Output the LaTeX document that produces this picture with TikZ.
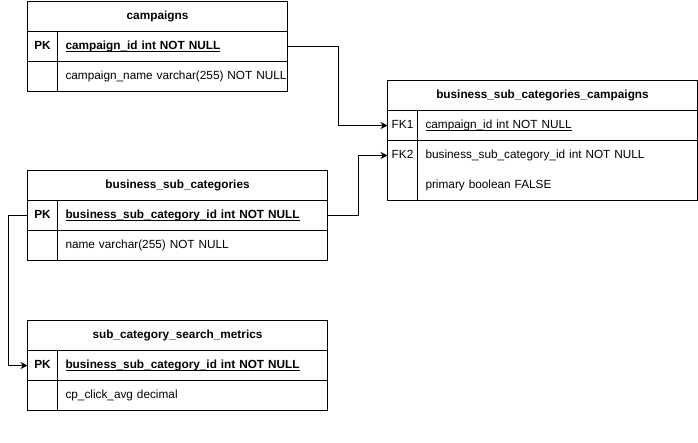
\documentclass[tikz,border=0pt,12pt]{standalone}
\usepackage{fontspec}
\setmainfont{Liberation Sans}
\usetikzlibrary{arrows.meta,positioning}
\newcommand{\keyname}[1]{\setbox0\hbox{#1}\rlap{\rule[-2.6pt]{\wd0}{0.8pt}}\box0}

\begin{document}
\begin{tikzpicture}
[x=1pt,y=-1pt,line width=1pt,
font=\fontsize{11.8pt}{14pt}\selectfont,
strong/.style={font=\fontsize{11.8pt}{14pt}\selectfont\bfseries},
cell/.style={anchor=north west,outer sep=0pt,minimum height=30pt,inner ysep=0pt,text height=9pt,text depth=3pt},
tablename/.style={cell,draw,strong,minimum width=#1},
keycell/.style={cell,minimum width=30pt,inner xsep=0pt},
fieldcell/.style={cell,inner xsep=8pt,text width=#1,align=left},
ruled/.style={draw},
fk/.style={-{Stealth[length=7pt,width=7pt]}}]
\useasboundingbox (0,0) rectangle (698,442);
% campaigns
\node[tablename=260pt] (campaigns) at (27.5,1.5) {campaigns};
\node[keycell,ruled,strong] (campaigns pk) at (campaigns.south west) {PK};
\node[fieldcell=214pt,ruled,strong] (campaigns id) at (campaigns pk.north east) {\keyname{campaign\_id int NOT NULL}};
\node[keycell,ruled] (campaigns k2) at (campaigns pk.south west) {};
\node[fieldcell=214pt,ruled] (campaigns name) at (campaigns k2.north east) {\mbox{campaign\_name varchar(255) NOT NULL}};
% business_sub_categories_campaigns
\node[tablename=310pt] (bscc) at (387.5,80.5) {business\_sub\_categories\_campaigns};
\node[keycell,ruled] (bscc fk1) at (bscc.south west) {FK1};
\node[fieldcell=264pt,ruled] (bscc cid) at (bscc fk1.north east) {\keyname{campaign\_id int NOT NULL}};
\node[keycell] (bscc fk2) at (bscc fk1.south west) {FK2};
\node[fieldcell=264pt] (bscc sid) at (bscc fk2.north east) {business\_sub\_category\_id int NOT NULL};
\node[keycell] (bscc k3) at (bscc fk2.south west) {};
\node[fieldcell=264pt] (bscc primary) at (bscc k3.north east) {primary boolean FALSE};
\draw (bscc fk2.north west) rectangle (bscc primary.south east);
\draw (bscc fk2.north east) -- (bscc k3.south east);
% business_sub_categories
\node[tablename=300pt] (bsc) at (27.5,170.5) {business\_sub\_categories};
\node[keycell,ruled,strong] (bsc pk) at (bsc.south west) {PK};
\node[fieldcell=254pt,ruled,strong] (bsc id) at (bsc pk.north east) {\keyname{business\_sub\_category\_id int NOT NULL}};
\node[keycell,ruled] (bsc k2) at (bsc pk.south west) {};
\node[fieldcell=254pt,ruled] (bsc name) at (bsc k2.north east) {name varchar(255) NOT NULL};
% sub_category_search_metrics
\node[tablename=300pt] (scsm) at (27.5,320.5) {sub\_category\_search\_metrics};
\node[keycell,ruled,strong] (scsm pk) at (scsm.south west) {PK};
\node[fieldcell=254pt,ruled,strong] (scsm id) at (scsm pk.north east) {\keyname{business\_sub\_category\_id int NOT NULL}};
\node[keycell,ruled] (scsm k2) at (scsm pk.south west) {};
\node[fieldcell=254pt,ruled] (scsm avg) at (scsm k2.north east) {cp\_click\_avg decimal};
% foreign keys
\draw[fk] (campaigns id.east) -- ++(50.5,0) |- (bscc fk1.west);
\draw[fk] (bsc id.east) -- ++(30.5,0) |- (bscc fk2.west);
\draw[fk] (bsc pk.west) -- ++(-19.5,0) |- (scsm pk.west);
\end{tikzpicture}
\end{document}
